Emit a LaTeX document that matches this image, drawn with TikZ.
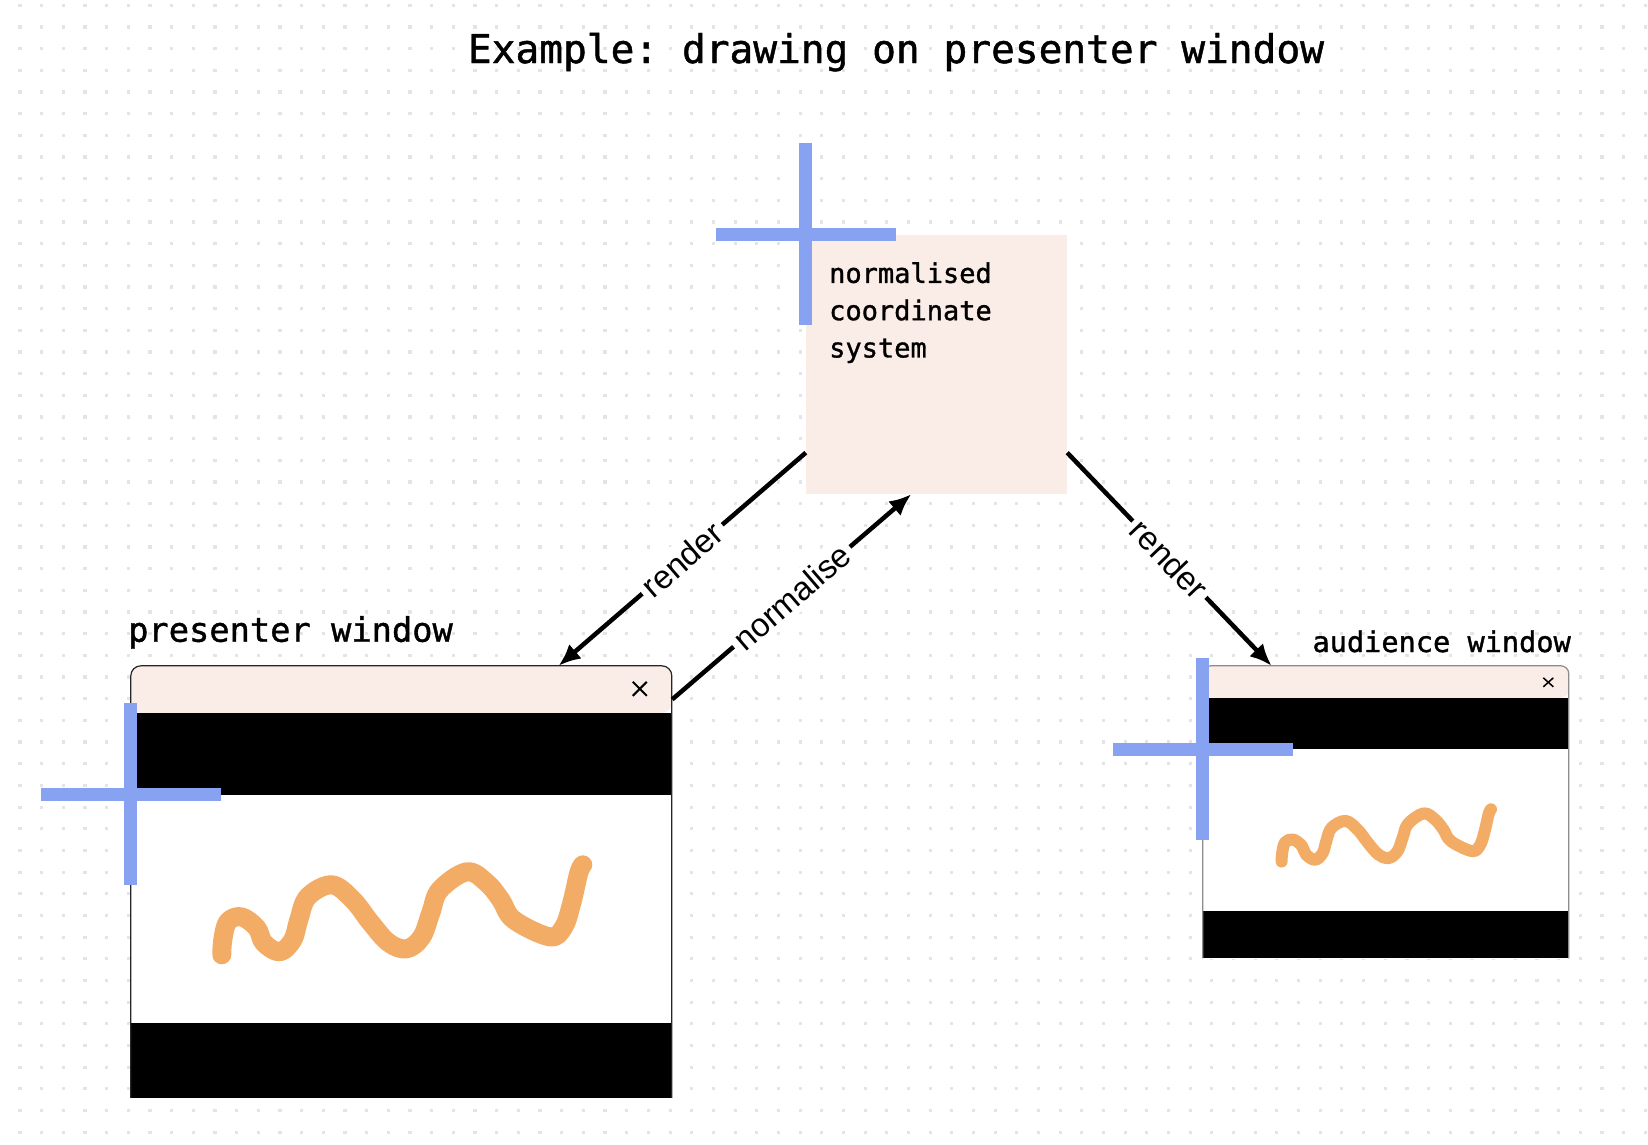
\documentclass[tikz,border=0pt]{standalone}
\usepackage{fontspec}
\setmonofont{DejaVu Sans Mono}[FakeBold=1.2]
\setsansfont{Liberation Sans}
\usepackage{tikz}
\usetikzlibrary{positioning,calc,arrows,arrows.meta}

\definecolor{dotgray}{HTML}{E2E4EA}
\definecolor{paperpink}{HTML}{FAECE7}
\definecolor{crossblue}{HTML}{88A2F2}
\definecolor{inkorange}{HTML}{F2AC66}

\tikzset{
  monotext/.style={font=\ttfamily, inner sep=0pt},
  arrowlabel/.style={font=\sffamily\fontsize{33}{40}\selectfont, fill=white, inner sep=5pt, sloped, midway},
  connector/.style={-{Latex[length=22,width=19]}, line width=4.5, black},
  crossbar/.style={crossblue, line width=13},
  scribble/.style={inkorange, line cap=round, line join=round},
  winframe/.style={line width=1.2, rounded corners=10},
}

\newcommand{\axiscross}[1]{%
  \draw[crossbar] ($(#1)+(-90,0)$) -- ($(#1)+(90,0)$);
  \draw[crossbar] ($(#1)+(0,-92)$) -- ($(#1)+(0,90)$);}

\newcommand{\scribblepath}{plot[smooth, tension=0.6] coordinates {(0,0) (1,-15) (6,-33) (19.5,-38) (35,-27) (42,-12) (58,-3) (71,-15) (77,-35) (86,-58) (110,-70) (131,-55) (149,-32) (167,-12) (185,-6) (200,-18) (209,-42) (218,-65) (245,-83) (265,-72) (279,-55) (292,-35) (328,-18) (342,-28) (350,-52) (357,-82) (361,-90)}}

\begin{document}
\begin{tikzpicture}[x=1pt, y=-1pt]
\useasboundingbox (0,0) rectangle (1648,1144);
\fill[white] (0,0) rectangle (1648,1144);

% dotted paper
\foreach \i in {0,...,75}
  \foreach \j in {0,...,52}
    \fill[dotgray] ({18.4+21.67*\i},{3.7+21.67*\j}) rectangle ++(3.2,3.2);

\node[monotext, font=\ttfamily\fontsize{39.5}{47}\selectfont, anchor=base] (title) at (896,63) {Example: drawing on presenter window};

% normalised coordinate system
\node[fill=paperpink, minimum width=261, minimum height=259, inner sep=0] (ncs) at (936.5,364.5) {};
\axiscross{ncs.north west}
\node[monotext, font=\ttfamily\fontsize{27}{37.3}\selectfont, align=left, anchor=north west] (ncslabel) at (829,262) {normalised\\coordinate\\system};

% presenter window
\node[fill=white, minimum width=541, minimum height=432, inner sep=0] (pres) at (401.5,882) {};
\begin{scope}[shift={(pres.north west)}]
  \fill[paperpink, rounded corners=10] (0,47) -- (0,0) -- (541,0) -- (541,47) -- cycle;
  \fill[black] (0,47) rectangle (541,129);
  \fill[black] (0,357) rectangle (541,432);
  \draw[winframe, black!85] (0,432) -- (0,0) -- (541,0) -- (541,432);
  \draw[line width=2] (502,16) -- (516,30) (502,30) -- (516,16);
  \draw[scribble, line width=19, shift={(91,289)}] \scribblepath;
\end{scope}
\coordinate (presorigin) at ($(pres.north west)+(0,129)$);
\axiscross{presorigin}
\node[monotext, font=\ttfamily\fontsize{33.7}{40}\selectfont, anchor=base west] (preslabel) at (128,641.7) {presenter window};

% audience window
\node[fill=white, minimum width=366, minimum height=292.5, inner sep=0] (aud) at (1386,812.25) {};
\begin{scope}[shift={(aud.north west)}]
  \fill[paperpink, rounded corners=8] (0,32) -- (0,0) -- (366,0) -- (366,32) -- cycle;
  \fill[black] (0,32) rectangle (366,83);
  \fill[black] (0,245) rectangle (366,292.5);
  \draw[winframe, rounded corners=8, black!45] (0,292.5) -- (0,0) -- (366,0) -- (366,292.5);
  \draw[line width=1.5] (340.5,12) -- (350.5,21) (340.5,21) -- (350.5,12);
  \draw[scribble, line width=12, shift={(78.8,195.7)}, scale=0.58] \scribblepath;
\end{scope}
\coordinate (audorigin) at ($(aud.north west)+(0,84)$);
\axiscross{audorigin}
\node[monotext, font=\ttfamily\fontsize{28.6}{34}\selectfont, anchor=base east] (audlabel) at (1571,652) {audience window};

% connectors
\draw[connector] (ncs.214.4) -- node[arrowlabel] {render} (pres.54.25);
\draw[connector] (pres.34.5) -- node[arrowlabel] {normalise} (ncs.259.3);
\draw[connector] (ncs.-34.4) -- node[arrowlabel] {render} (aud.128);
\end{tikzpicture}
\end{document}
